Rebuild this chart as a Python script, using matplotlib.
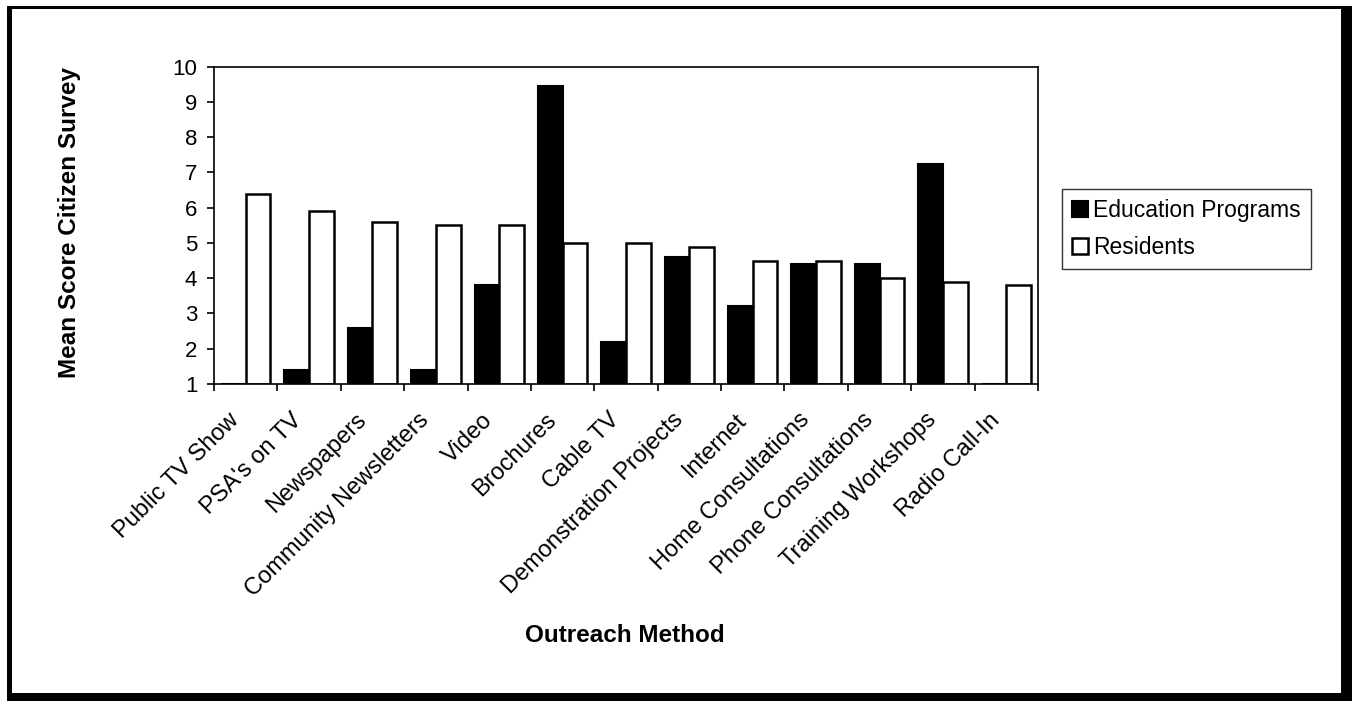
import matplotlib
matplotlib.use("Agg")
import matplotlib.pyplot as plt
import numpy as np
from matplotlib.patches import Rectangle

plt.rcParams['font.family'] = ['Liberation Sans', 'DejaVu Sans']

categories = ["Public TV Show", "PSA's on TV", "Newspapers", "Community Newsletters",
              "Video", "Brochures", "Cable TV", "Demonstration Projects", "Internet",
              "Home Consultations", "Phone Consultations", "Training Workshops",
              "Radio Call-In"]
education_programs = [np.nan, 1.4, 2.6, 1.4, 3.8, 9.45, 2.2, 4.6, 3.2, 4.4, 4.4, 7.25, np.nan]
residents = [6.4, 5.9, 5.6, 5.5, 5.5, 5.0, 5.0, 4.9, 4.5, 4.5, 4.0, 3.9, 3.8]
y_ticks = list(range(1, 11))

W, H = 1352, 701
fig = plt.figure(figsize=(W / 100, H / 100), dpi=100)
ax = fig.add_axes([214 / W, 1 - 384 / H, (1038 - 214) / W, (384 - 66.7) / H])

x = np.arange(len(categories))
w = 0.39
base = 1
edu_h = [v - base if not np.isnan(v) else 0 for v in education_programs]
res_h = [v - base for v in residents]
ax.bar(x - w / 2, edu_h, w, bottom=base, color='black', edgecolor='black',
       linewidth=1.5, label='Education Programs')
ax.bar(x + w / 2, res_h, w, bottom=base, color='white', edgecolor='black',
       linewidth=1.8, label='Residents')

ax.set_xlim(-0.5, len(categories) - 0.5)
ax.set_ylim(1, 10)
ax.set_yticks(y_ticks)
ax.set_yticklabels([str(t) for t in y_ticks], fontsize=16)

# category boundaries carry the tick marks; the slanted labels hang from
# invisible minor ticks set a little left of each category centre
label_offset = 0.28
ax.set_xticks(np.arange(len(categories) + 1) - 0.5)
ax.set_xticklabels([])
ax.set_xticks(x - label_offset, minor=True)
ax.set_xticklabels(categories, minor=True, rotation=45, ha='right', va='top',
                   rotation_mode='anchor', fontsize=17)
ax.tick_params(axis='x', which='minor', length=0, pad=18)
ax.tick_params(axis='x', which='major', direction='out', length=5, width=1.2)
ax.tick_params(axis='y', direction='out', length=5, width=1.2, pad=7)
for s in ax.spines.values():
    s.set_linewidth(1.2)

ax.set_ylabel('Mean Score Citizen Survey', fontsize=17.5, fontweight='bold')
ax.yaxis.set_label_coords((81 - 214) / (1038 - 214), 0.51)
fig.text(625 / W, 1 - 635 / H, 'Outreach Method', fontsize=17.5, fontweight='bold',
         ha='center', va='center')

leg = ax.legend(loc='upper left', bbox_to_anchor=(1062 / W, 1 - 189 / H),
                bbox_transform=fig.transFigure, fontsize=16.5,
                frameon=True, fancybox=False, edgecolor='black', handlelength=0.7,
                handleheight=0.7, handletextpad=0.2, borderpad=0.45, labelspacing=0.6,
                borderaxespad=0)
leg.get_frame().set_linewidth(1.0)

# heavy frame around the whole figure
for (x0, y0, x1, y1) in [(7, 6, 1352, 9), (7, 6, 12, 701), (1341, 6, 1352, 701),
                         (7, 693, 1352, 701)]:
    fig.patches.append(Rectangle((x0 / W, 1 - y1 / H), (x1 - x0) / W, (y1 - y0) / H,
                                 transform=fig.transFigure, facecolor='black',
                                 edgecolor='none'))

fig.savefig('out.png', dpi=100)
